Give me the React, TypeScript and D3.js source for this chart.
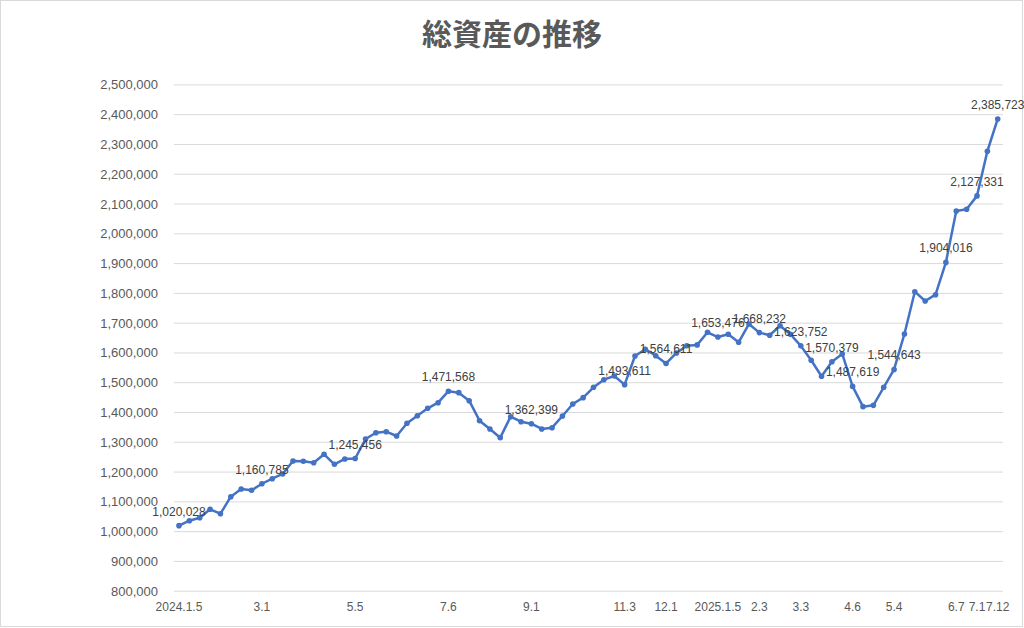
import React from "react";
import * as d3 from "d3";

const values: number[] = [
  1020028, 1036700, 1046800, 1075000, 1060200, 1117300, 1143200, 1138800, 1160785, 1177800,
  1193600, 1237200, 1236200, 1231500, 1259700, 1226100, 1244000, 1245456, 1311100, 1332200,
  1335600, 1321200, 1363800, 1389300, 1414200, 1433000, 1471568, 1466600, 1439700, 1372500,
  1344700, 1315500, 1386000, 1369200, 1362399, 1344700, 1349000, 1388300, 1428600, 1449800,
  1484700, 1510200, 1522600, 1493611, 1589800, 1612300, 1590800, 1564611, 1599900, 1624000,
  1627000, 1669400, 1653476, 1662700, 1635800, 1697300, 1668232, 1659300, 1691500, 1662700,
  1623752, 1575400, 1521600, 1570379, 1596500, 1487619, 1419600, 1424000, 1484700, 1544643,
  1663700, 1805700, 1774500, 1795600, 1904016, 2076700, 2082400, 2127331, 2277200, 2385723,
];

const labeledIdx: number[] = [0, 8, 17, 26, 34, 43, 47, 52, 56, 60, 63, 65, 69, 74, 77, 79];

const xTickIdx: number[] = [0, 8, 17, 26, 34, 43, 47, 52, 56, 60, 65, 69, 75, 77, 79];
const xTickLabels: string[] = [
  "2024.1.5", "3.1", "5.5", "7.6", "9.1", "11.3", "12.1", "2025.1.5", "2.3", "3.3", "4.6", "5.4", "6.7", "7.1", "7.12",
];

const yTicks: number[] = [
  800000, 900000, 1000000, 1100000, 1200000, 1300000, 1400000, 1500000, 1600000, 1700000,
  1800000, 1900000, 2000000, 2100000, 2200000, 2300000, 2400000, 2500000,
];

const title = "総資産の推移";

const W = 1024;
const H = 628;
const plotLeft = 173.8;
const plotRight = 1002.9;
const plotTop = 84.9;
const plotBottom = 591.2;

const LINE_COLOR = "#4472C4";
const FONT = "'Liberation Sans', Arial, sans-serif";

export default function App() {
  const idx = values.map((_, i) => i);
  const x = d3.scalePoint<number>().domain(idx).range([plotLeft, plotRight]).padding(0.5);
  const y = d3.scaleLinear().domain([800000, 2500000]).range([plotBottom, plotTop]);
  const fmt = d3.format(",");
  const line = d3
    .line<number>()
    .x((_, i) => x(i) as number)
    .y((d) => y(d));

  return (
    <svg
      width={W}
      height={H}
      style={{ position: "absolute", left: 0, top: 0, background: "#fff" }}
    >
      <rect x={0.5} y={0.5} width={W - 2} height={H - 2} fill="#fff" stroke="#d9d9d9" />
      <text
        x={512}
        y={45}
        textAnchor="middle"
        fontFamily="'Noto Sans CJK JP', sans-serif"
        fontWeight="bold"
        fontSize={30}
        fill="#595959"
      >
        {title}
      </text>
      {yTicks.map((t) => (
        <g key={t}>
          <line
            x1={plotLeft}
            x2={plotRight}
            y1={y(t)}
            y2={y(t)}
            stroke="#d9d9d9"
            strokeWidth={1}
          />
          <text
            x={158}
            y={y(t)}
            dy="0.35em"
            textAnchor="end"
            fontFamily={FONT}
            fontSize={13}
            fill="#595959"
          >
            {fmt(t)}
          </text>
        </g>
      ))}
      {xTickIdx.map((i, k) => (
        <text
          key={i}
          x={x(i) as number}
          y={611}
          textAnchor="middle"
          fontFamily={FONT}
          fontSize={12}
          fill="#595959"
        >
          {xTickLabels[k]}
        </text>
      ))}
      <path
        d={line(values) || ""}
        fill="none"
        stroke={LINE_COLOR}
        strokeWidth={2.5}
        strokeLinejoin="round"
      />
      {values.map((v, i) => (
        <circle key={i} cx={x(i) as number} cy={y(v)} r={2.8} fill={LINE_COLOR} />
      ))}
      {labeledIdx.map((i) => (
        <text
          key={i}
          x={x(i) as number}
          y={y(values[i]) - 10}
          textAnchor="middle"
          fontFamily={FONT}
          fontSize={12}
          fill="#404040"
        >
          {fmt(values[i])}
        </text>
      ))}
    </svg>
  );
}
